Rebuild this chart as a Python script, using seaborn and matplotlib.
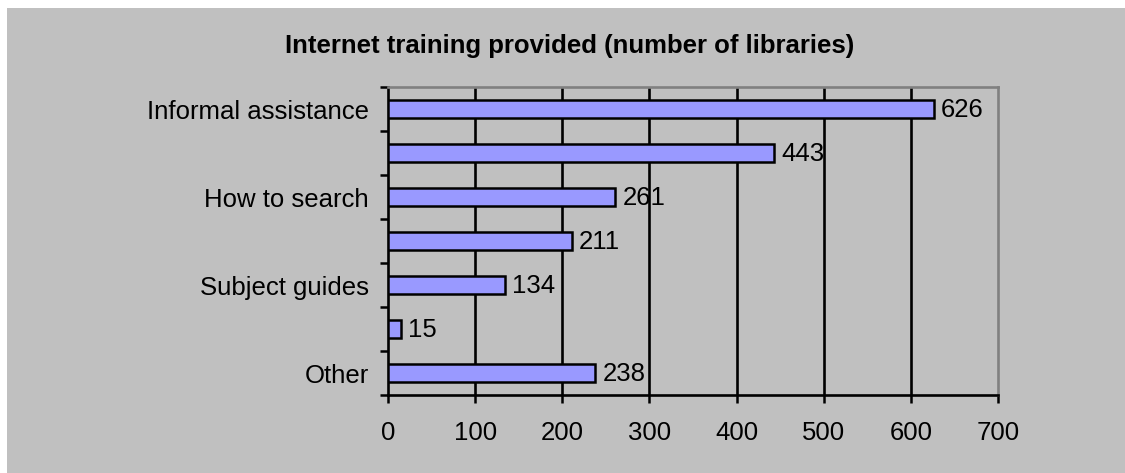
import numpy as np
import pandas as pd
import seaborn as sb
import matplotlib.pyplot as plt
from matplotlib.patches import Rectangle
from matplotlib.ticker import FixedLocator

# chart data (every other category label is hidden in the original chart)
categories = ['Informal assistance', '', 'How to search', '', 'Subject guides', '', 'Other']
libraries = [626, 443, 261, 211, 134, 15, 238]
xticks = [0, 100, 200, 300, 400, 500, 600, 700]
title = 'Internet training provided (number of libraries)'

df = pd.DataFrame({'pos': np.arange(len(categories)), 'count': libraries})

sb.set_style('white')
plt.rcParams['font.family'] = ['Liberation Sans', 'DejaVu Sans']
plt.rcParams['text.color'] = 'black'
plt.rcParams['xtick.color'] = 'black'
plt.rcParams['ytick.color'] = 'black'

fig = plt.figure(figsize=(11.25, 4.73), dpi=100)
fig.patch.set_facecolor('white')
# grey chart area, white strip on left and top
bg = Rectangle((7/1125, 0), 1 - 7/1125, 1 - 8/473, transform=fig.transFigure,
               facecolor='#c0c0c0', edgecolor='none', zorder=-5)
fig.add_artist(bg)

ax = fig.add_axes([388/1125, 1 - 395/473, 610/1125, 308/473])
ax.set_facecolor('#c0c0c0')

sb.barplot(x='count', y='pos', data=df, orient='h', color='#9999FF', saturation=1,
           edgecolor='black', linewidth=1.8, width=0.4, ax=ax, zorder=3)

ax.set_xlim(0, 700)
ax.set_ylim(6.5, -0.5)
ax.set_xticks(xticks)
ax.set_xticklabels([str(t) for t in xticks], fontsize=18.5)
ax.set_yticks(range(len(categories)))
ax.set_yticklabels(categories, fontsize=18.5)
ax.yaxis.set_minor_locator(FixedLocator(np.arange(-0.5, len(categories), 1)))
ax.tick_params(axis='y', which='major', length=0, pad=14)
ax.tick_params(axis='y', which='minor', length=5.5, width=1.8, color='black', direction='out', left=True)
ax.tick_params(axis='x', length=5.5, width=1.8, color='black', direction='out', pad=13.5, bottom=True)
ax.set_xlabel('')
ax.set_ylabel('')

# vertical gridlines
ax.grid(False)
for t in xticks[1:-1]:
    ax.axvline(t, color='black', lw=1.9, zorder=1)

for side in ['left', 'bottom']:
    ax.spines[side].set_color('black')
    ax.spines[side].set_linewidth(1.9)
for side in ['top', 'right']:
    ax.spines[side].set_visible(True)
    ax.spines[side].set_color('#808080')
    ax.spines[side].set_linewidth(1.9)

for p in ax.patches:
    w = p.get_width()
    ax.annotate(str(int(w)), (w, p.get_y() + 0.5*p.get_height()), xytext=(5, -1),
                textcoords='offset points', va='center', ha='left',
                fontsize=18.5, color='black', zorder=4)

fig.text(570/1125, 1 - 46/473, title, ha='center', va='center', fontsize=18.5,
         fontweight='bold', color='black')

fig.savefig('out.png', dpi=100)
